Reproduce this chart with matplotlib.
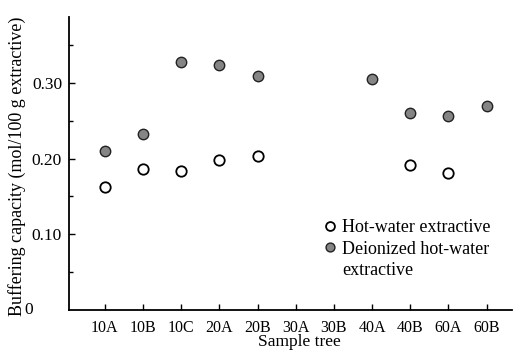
import numpy as np
import matplotlib.pyplot as plt

plt.rcParams['font.family'] = ['Liberation Serif', 'DejaVu Serif']

trees = ["10A", "10B", "10C", "20A", "20B", "30A", "30B", "40A", "40B", "60A", "60B"]
hotWater = [0.162, 0.186, 0.183, 0.198, 0.203, np.nan, np.nan, np.nan, 0.191, 0.181, np.nan]
deionized = [0.210, 0.232, 0.327, 0.324, 0.309, np.nan, np.nan, 0.305, 0.260, 0.256, 0.269]

fig = plt.figure(figsize=(5.13, 3.51), dpi=100)
ax = fig.add_axes([0.1345, 0.1168, 0.8645, 0.835])

x = np.arange(len(trees))
hw, = ax.plot(x, hotWater, 'o', linestyle='none', markersize=7.5, markerfacecolor='white',
              markeredgecolor='black', markeredgewidth=1.3)
di, = ax.plot(x, deionized, 'o', linestyle='none', markersize=7.5, markerfacecolor='#858585',
              markeredgecolor='#222222', markeredgewidth=1.0)

ax.set_xlim(-0.94, 10.68)
ax.set_ylim(0, 0.387)
ax.set_xticks(x)
ax.set_xticklabels(trees, fontsize=11.5)
ax.set_yticks([0.1, 0.2, 0.3])
ax.set_yticklabels(["0.10", "0.20", "0.30"], fontsize=12.5)
ax.set_yticks([0.05, 0.15, 0.25, 0.35], minor=True)
ax.tick_params(axis='both', which='major', direction='in', length=4, width=1)
ax.tick_params(axis='y', which='minor', direction='in', length=3, width=1)
ax.tick_params(axis='x', pad=7)
ax.tick_params(axis='y', pad=5)
ax.text(-0.09, 0.0, "0", transform=ax.transAxes, fontsize=12.5, ha='center', va='center')

ax.spines['top'].set_visible(False)
ax.spines['right'].set_visible(False)
ax.spines['left'].set_linewidth(1.3)
ax.spines['bottom'].set_linewidth(1.3)

ax.set_ylabel("Buffering capacity (mol/100 g extractive)", fontsize=13)
ax.yaxis.set_label_coords(-0.098, 0.49)
ax.set_xlabel("Sample tree", fontsize=12.5)
ax.xaxis.set_label_coords(0.52, -0.083)

blank = plt.Line2D([], [], linestyle='none')
ax.legend([hw, di, blank], ["Hot-water extractive", "Deionized hot-water", "extractive"],
          loc='upper left', bbox_to_anchor=(0.555, 0.335), frameon=False, fontsize=13,
          handletextpad=0.2, labelspacing=0.25, handlelength=0.9, borderaxespad=0,
          markerscale=0.85)

fig.savefig("out.png", dpi=100)
